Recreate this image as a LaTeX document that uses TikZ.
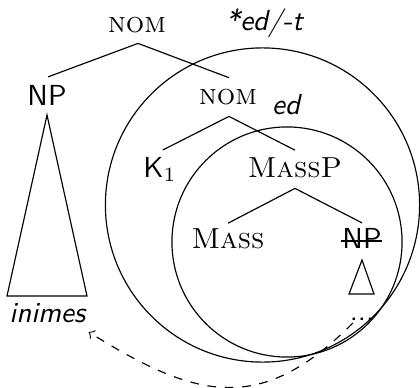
\documentclass[tikz,border=0pt]{standalone}
\usepackage{fontspec}
\usetikzlibrary{calc}
\tikzset{
  lbl/.style={anchor=base, inner sep=0pt, outer sep=0pt},
  edge/.style={line width=0.4pt},
}
\begin{document}
\begin{tikzpicture}[x=0.345pt,y=-0.345pt]
\useasboundingbox (0,0) rectangle (420,388);
% circles
\draw (262.5,205) circle[radius=54.2pt];
\draw (287,242) circle[radius=39.7pt];
% labels
\node[lbl] (nom1) at (137,32) {\textsc{nom}};
\node[lbl] (star) at (265,30) {\textsf{\textit{*ed/-t}}};
\node[lbl] (np1) at (47,105) {\textsf{NP}};
\node[lbl] (nom2) at (228,104) {\textsc{nom}};
\node[lbl] (ed) at (287,115) {\textsf{\textit{ed}}};
\node[lbl] (k1) at (160,177) {\textsf{K}$_1$};
\node[lbl] (massp) at (295,177) {\textsc{MassP}};
\node[lbl] (mass) at (228,248) {\textsc{Mass}};
\node[lbl] (np2) at (362,248) {\textsf{NP}};
\node[lbl] (dots) at (362,320) {\textsf{...}};
\node[lbl] (inimes) at (48,322) {\textsf{\textit{inimes}}};
% tree edges
\draw[edge] ($(nom1.south)+(1,11)$) -- ($(np1.north)+(1,-8)$);
\draw[edge] ($(nom1.south)+(1,11)$) -- ($(nom2.north)+(1,-11)$);
\draw[edge] ($(nom2.south)+(1,12)$) -- ($(k1.north)+(3,-7)$);
\draw[edge] ($(nom2.south)+(1,12)$) -- ($(massp.north)+(0,-7)$);
\draw[edge] ($(massp.south)+(0,11)$) -- ($(mass.north)+(0,-5)$);
\draw[edge] ($(massp.south)+(0,11)$) -- ($(np2.north)+(0,-5)$);
% strike through NP
\draw[edge] ($(np2.base west)+(-1,-7)$) -- ($(np2.base east)+(0,-7)$);
% triangles
\draw[edge] ($(np1.base)+(0,10)$) -- ($(inimes.north)+(-41,-7)$) -- ($(inimes.north)+(39,-7)$) -- cycle;
\draw[edge] ($(np2.base)+(0,12)$) -- ($(np2.base)+(-13,46)$) -- ($(np2.base)+(12,46)$) -- cycle;
% movement arrow
\draw[edge,dashed,->] ($(dots.base west)+(3,3)$) to[out=-135,in=-32,looseness=1.25] ($(inimes.base east)+(2,10)$);
\end{tikzpicture}
\end{document}
